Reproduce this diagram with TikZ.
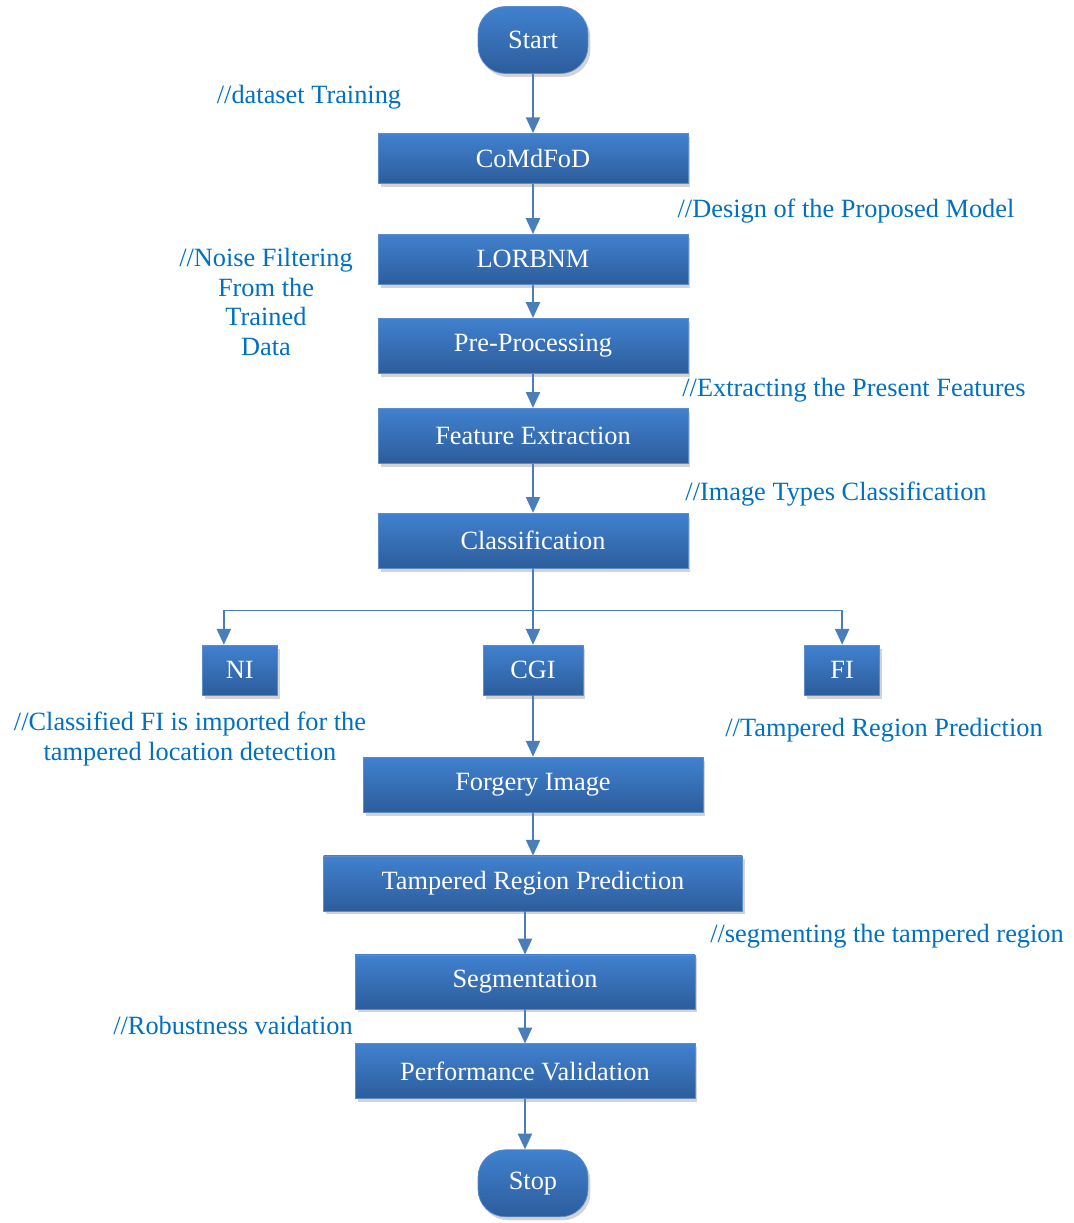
\documentclass[tikz,border=0pt]{standalone}
\usepackage{fontspec}
\setmainfont{Liberation Serif}
\usepackage{xcolor}
\usepackage{tikz}
\usetikzlibrary{shapes, arrows.meta, positioning, calc, shadows}

\definecolor{boxtop}{HTML}{4181CF}
\definecolor{boxbot}{HTML}{2C5D9C}
\definecolor{boxedge}{HTML}{5B8DCB}
\definecolor{linkblue}{HTML}{4A7EBB}
\definecolor{notetext}{HTML}{0070C0}

\begin{document}
\begin{tikzpicture}[
        x=0.02cm, y=-0.02cm,
        block/.style={rectangle, draw=boxedge, top color=boxtop, bottom color=boxbot, text=white,
            minimum width=6.2cm, minimum height=1.1cm, align=center, font=\fontsize{15}{17}\selectfont,
            drop shadow={shadow xshift=0.05cm, shadow yshift=-0.07cm, opacity=0.35}},
        terminal/.style={block, minimum width=2.2cm, minimum height=1.34cm, rounded corners=0.55cm},
        note/.style={text=notetext, align=center, font=\fontsize{15}{17}\selectfont},
        arrow/.style={-{Triangle[width=8pt,length=9pt]}, draw=linkblue, line width=1.1pt}
    ]
        \useasboundingbox (0,0) rectangle (1073,1223);

        % upper column
        \node[terminal] (start) at (533,40) {Start};
        \node[block, minimum height=1cm, below=1.185cm of start] (comdfod) {CoMdFoD};
        \node[block, minimum height=1cm, below=1.005cm of comdfod] (lorbnm) {LORBNM};
        \node[block, below=0.665cm of lorbnm] (prep) {Pre-Processing};
        \node[block, below=0.685cm of prep] (feat) {Feature Extraction};
        \node[block, below=0.985cm of feat] (class) {Classification};

        % three image types
        \node[block, minimum width=2cm, minimum height=1cm, below=1.525cm of class] (cgi) {CGI};
        \node[block, minimum width=1.5cm, minimum height=1cm, left=4.1cm of cgi] (ni) {NI};
        \node[block, minimum width=1.5cm, minimum height=1cm, right=4.42cm of cgi] (fi) {FI};

        % lower column
        \node[block, minimum width=6.8cm, below=1.225cm of cgi] (forgery) {Forgery Image};
        \node[block, minimum width=8.38cm, below=0.865cm of forgery] (tampered) {Tampered Region Prediction};
        \node[block, minimum width=6.8cm, minimum height=1.08cm, below=0.865cm of tampered, xshift=-0.16cm] (seg) {Segmentation};
        \node[block, minimum width=6.8cm, below=0.685cm of seg] (perf) {Performance Validation};
        \node[terminal, below=1.005cm of perf, xshift=0.16cm] (stop) {Stop};

        % arrows
        \draw[arrow] (start.south) -- (start.south |- comdfod.north);
        \draw[arrow] (comdfod.south) -- (comdfod.south |- lorbnm.north);
        \draw[arrow] (lorbnm.south) -- (lorbnm.south |- prep.north);
        \draw[arrow] (prep.south) -- (prep.south |- feat.north);
        \draw[arrow] (feat.south) -- (feat.south |- class.north);
        \coordinate (split) at ($(class.south)+(0,42)$);
        \draw[arrow] (class.south) -- (class.south |- cgi.north);
        \draw[arrow] (split) -| ($(ni.north)+(-16,0)$);
        \draw[arrow] (split) -| (fi.north);
        \draw[arrow] (cgi.south) -- (cgi.south |- forgery.north);
        \draw[arrow] (forgery.south) -- (forgery.south |- tampered.north);
        \draw[arrow] (seg.north |- tampered.south) -- (seg.north);
        \draw[arrow] (seg.south) -- (seg.south |- perf.north);
        \draw[arrow] (perf.south) -- (perf.south |- stop.north);

        % notes
        \node[note] (n1) at (309,97) {//dataset Training};
        \node[note] (n2) at (846,211) {//Design of the Proposed Model};
        \node[note] (n3) at (266,302) {//Noise Filtering\\From the\\Trained\\Data};
        \node[note] (n4) at (854,390) {//Extracting the Present Features};
        \node[note] (n5) at (836,494) {//Image Types Classification};
        \node[note] (n6) at (190,739) {//Classified FI is imported for the\\tampered location detection};
        \node[note] (n7) at (884,730) {//Tampered Region Prediction};
        \node[note] (n8) at (887,936) {//segmenting the tampered region};
        \node[note] (n9) at (233,1025) {//Robustness vaidation};
    \end{tikzpicture}
\end{document}
